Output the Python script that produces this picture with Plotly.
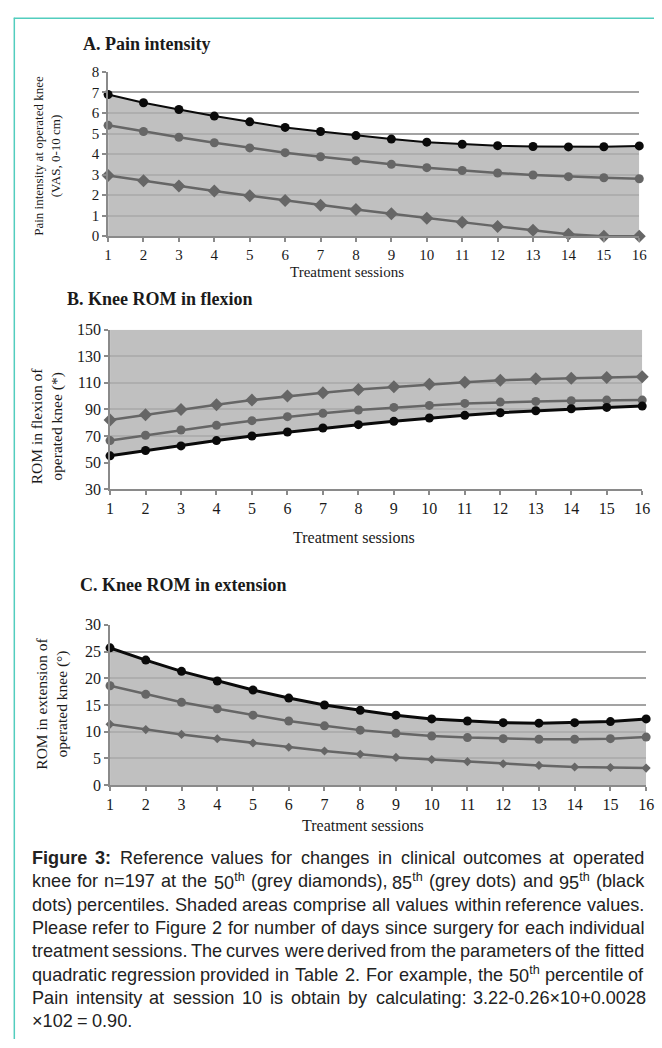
import plotly.graph_objects as go

# ---------------- data ----------------
sessions = list(range(1, 17))

pain_p50 = [2.96, 2.70, 2.45, 2.20, 1.97, 1.74, 1.51, 1.30, 1.09, 0.88, 0.68, 0.48, 0.29, 0.10, 0.00, 0.00]
pain_p85 = [5.40, 5.10, 4.82, 4.55, 4.30, 4.07, 3.87, 3.68, 3.50, 3.34, 3.20, 3.08, 2.98, 2.90, 2.85, 2.80]
pain_p95 = [6.90, 6.50, 6.17, 5.85, 5.57, 5.30, 5.10, 4.90, 4.73, 4.58, 4.48, 4.41, 4.37, 4.35, 4.36, 4.40]

flex_p50 = [82.0, 86.0, 90.0, 93.5, 97.0, 100.0, 102.5, 105.0, 107.0, 109.0, 110.5, 112.0, 113.0, 113.5, 114.0, 114.5]
flex_p85 = [66.5, 70.5, 74.5, 78.0, 81.5, 84.5, 87.0, 89.5, 91.5, 93.0, 94.5, 95.5, 96.0, 96.5, 97.0, 97.0]
flex_p95 = [55.0, 59.0, 62.5, 66.5, 70.0, 73.0, 76.0, 78.5, 81.0, 83.5, 85.5, 87.5, 89.0, 90.5, 91.5, 92.5]

ext_p50 = [11.4, 10.4, 9.5, 8.7, 7.9, 7.1, 6.4, 5.8, 5.2, 4.8, 4.4, 4.0, 3.7, 3.4, 3.3, 3.2]
ext_p85 = [18.6, 17.0, 15.5, 14.3, 13.1, 12.0, 11.1, 10.3, 9.7, 9.2, 8.9, 8.7, 8.6, 8.6, 8.7, 9.0]
ext_p95 = [25.7, 23.4, 21.3, 19.5, 17.8, 16.3, 15.0, 14.0, 13.1, 12.4, 12.0, 11.7, 11.6, 11.7, 11.9, 12.4]

panel_titles = ["A. Pain intensity", "B. Knee ROM in flexion", "C. Knee ROM in extension"]
y_titles = ["Pain intensity at operated knee<br>(VAS, 0-10 cm)",
            "ROM in flexion of<br>operated knee (*)",
            "ROM in extension of<br>operated knee (°)"]
x_title = "Treatment sessions"
y_ranges = [(0, 8, 1), (30, 150, 20), (0, 30, 5)]

caption_lines = [
    "<b>Figure</b> <b>3:</b> Reference values for changes in clinical outcomes at operated",
    "knee for n=197 at the 50<sup>th</sup> (grey diamonds), 85<sup>th</sup> (grey dots) and 95<sup>th</sup> (black",
    "dots) percentiles. Shaded areas comprise all values within reference values.",
    "Please refer to Figure 2 for number of days since surgery for each individual",
    "treatment sessions. The curves were derived from the parameters of the fitted",
    "quadratic regression provided in Table 2. For example, the 50<sup>th</sup> percentile of",
    "Pain intensity at session 10 is obtain by calculating: 3.22-0.26×10+0.0028",
    "×102 = 0.90.",
]

# ---------------- layout helpers ----------------
W, H = 662, 1048
SERIF = "Liberation Serif, Times New Roman, serif"
SANS = "Liberation Sans, Arial, sans-serif"
TXT = "#1a1a1a"
BLACK = "#0a0a0a"
GREY = "#666666"
FILL = "rgba(176,176,176,0.8)"
GRID = "#a3a3a3"
AXIS = "#8a8a8a"

def px(x):
    return x / W

def py(y):
    return 1 - y / H

# pixel geometry of each panel: (x_left, x_right, y_top, y_bottom)
geo = [(106, 647, 65, 232), (108, 650, 327, 489), (108, 654, 627, 790)]
title_pos = [(78, 37), (62, 296), (75, 587)]
ytitle_pos = [(43, 150), (44, 425), (48, 707)]
ytitle_size = [13, 15.5, 15.5]
xtitle_pos = [(349, 268), (356, 538), (366, 831)]
xtitle_size = [15, 16, 16]
tick_size = [15, 16, 16]

fig = go.Figure()

series = [(pain_p50, pain_p85, pain_p95), (flex_p50, flex_p85, flex_p95), (ext_p50, ext_p85, ext_p95)]
black_w = [2, 3, 3]

for i, (p50, p85, p95) in enumerate(series):
    xa = "x" if i == 0 else f"x{i+1}"
    ya = "y" if i == 0 else f"y{i+1}"
    ymin, ymax, dt = y_ranges[i]
    if i == 1:
        # white below the 95th curve, grey above it
        fig.add_trace(go.Scatter(x=sessions, y=p95, mode="lines", line=dict(width=0),
                                 fill="tozeroy", fillcolor="white", hoverinfo="skip",
                                 showlegend=False, xaxis=xa, yaxis=ya))
        fig.add_trace(go.Scatter(x=sessions, y=[ymax] * len(sessions), mode="lines",
                                 line=dict(width=0), fill="tonexty", fillcolor=FILL,
                                 hoverinfo="skip", showlegend=False, xaxis=xa, yaxis=ya))
    else:
        fig.add_trace(go.Scatter(x=sessions, y=p95, mode="lines", line=dict(width=0),
                                 fill="tozeroy", fillcolor=FILL, hoverinfo="skip",
                                 showlegend=False, xaxis=xa, yaxis=ya))
    dsize = 7 if i == 2 else 10
    fig.add_trace(go.Scatter(x=sessions, y=p50, mode="lines+markers",
                             line=dict(color=GREY, width=2.5),
                             marker=dict(symbol="diamond", size=dsize, color=GREY),
                             cliponaxis=False, showlegend=False, xaxis=xa, yaxis=ya))
    fig.add_trace(go.Scatter(x=sessions, y=p85, mode="lines+markers",
                             line=dict(color=GREY, width=2.5),
                             marker=dict(symbol="circle", size=9, color=GREY),
                             cliponaxis=False, showlegend=False, xaxis=xa, yaxis=ya))
    fig.add_trace(go.Scatter(x=sessions, y=p95, mode="lines+markers",
                             line=dict(color=BLACK, width=black_w[i]),
                             marker=dict(symbol="circle", size=9, color=BLACK),
                             cliponaxis=False, showlegend=False, xaxis=xa, yaxis=ya))

    xl, xr, yt, yb = geo[i]
    xkey = "xaxis" if i == 0 else f"xaxis{i+1}"
    ykey = "yaxis" if i == 0 else f"yaxis{i+1}"
    fig.update_layout(**{
        xkey: dict(domain=[px(xl), px(xr)], range=[1, 16], anchor=ya,
                   tickmode="array", tickvals=sessions, ticktext=[str(s) for s in sessions],
                   showgrid=False, zeroline=False, showline=True, linecolor=AXIS, linewidth=1.5,
                   ticks="outside", ticklen=4, tickcolor=AXIS, tickwidth=1.5,
                   tickfont=dict(family=SERIF, size=tick_size[i], color=TXT)),
        ykey: dict(domain=[py(yb), py(yt)], range=[ymin, ymax], anchor=xa, dtick=dt, tick0=ymin,
                   showgrid=True, gridcolor=GRID, gridwidth=2, zeroline=False,
                   showline=True, linecolor=AXIS, linewidth=1.5,
                   ticks="outside", ticklen=4, tickcolor=AXIS, tickwidth=1.5,
                   tickfont=dict(family=SERIF, size=tick_size[i], color=TXT)),
    })

annotations = []
for i in range(3):
    tx, ty = title_pos[i]
    annotations.append(dict(text=f"<b>{panel_titles[i]}</b>", x=px(tx), y=py(ty), xref="paper", yref="paper",
                            xanchor="left", yanchor="middle", showarrow=False,
                            font=dict(family=SERIF, size=18, color=TXT)))
    ax_, ay_ = ytitle_pos[i]
    annotations.append(dict(text=y_titles[i], x=px(ax_), y=py(ay_), xref="paper", yref="paper",
                            xanchor="center", yanchor="middle", showarrow=False, textangle=-90,
                            font=dict(family=SERIF, size=ytitle_size[i], color=TXT)))
    bx, by = xtitle_pos[i]
    annotations.append(dict(text=x_title, x=px(bx), y=py(by), xref="paper", yref="paper",
                            xanchor="center", yanchor="middle", showarrow=False,
                            font=dict(family=SERIF, size=xtitle_size[i], color=TXT)))

# ---------------- justified caption ----------------
AW = {' ': 278, '!': 278, '(': 333, ')': 333, ',': 278, '-': 333, '.': 278, ':': 278, '=': 584,
      '×': 584, '+': 584, 'A': 667, 'B': 667, 'C': 722, 'D': 722, 'E': 667, 'F': 611, 'G': 778,
      'H': 722, 'I': 278, 'J': 500, 'K': 667, 'L': 556, 'M': 833, 'N': 722, 'O': 778, 'P': 667,
      'Q': 778, 'R': 722, 'S': 667, 'T': 611, 'U': 722, 'V': 667, 'W': 944, 'X': 667, 'Y': 667,
      'Z': 611, 'a': 556, 'b': 556, 'c': 500, 'd': 556, 'e': 556, 'f': 278, 'g': 556, 'h': 556,
      'i': 222, 'j': 222, 'k': 500, 'l': 222, 'm': 833, 'n': 556, 'o': 556, 'p': 556, 'q': 556,
      'r': 333, 's': 500, 't': 278, 'u': 556, 'v': 500, 'w': 722, 'x': 500, 'y': 500, 'z': 500}
BW = {'F': 611, 'i': 278, 'g': 611, 'u': 611, 'r': 389, 'e': 556, '3': 556, ':': 333}

def word_width(word, size):
    w = 0.0
    scale, bold = 1.0, False
    j = 0
    while j < len(word):
        if word.startswith("<sup>", j):
            scale = 0.7; j += 5; continue
        if word.startswith("</sup>", j):
            scale = 1.0; j += 6; continue
        if word.startswith("<b>", j):
            bold = True; j += 3; continue
        if word.startswith("</b>", j):
            bold = False; j += 4; continue
        c = word[j]
        if bold:
            cw = BW.get(c, AW.get(c, 556) * 1.05)
        else:
            cw = AW.get(c, 556)
        w += cw * scale
        j += 1
    return w * size / 1000.0

CAP_L, CAP_R = 26, 649
CAP_Y0, CAP_DY = 864, 23.7
# largest font size (<= 18.5) that lets every justified line keep at least a normal space
CAP_SIZE = 18.5
for line in caption_lines[:-1]:
    words = line.split(" ")
    em = sum(word_width(wd, 1.0) for wd in words) + (len(words) - 1) * AW[' '] / 1000.0
    CAP_SIZE = min(CAP_SIZE, (CAP_R - CAP_L) / em)

for li, line in enumerate(caption_lines):
    yv = py(CAP_Y0 + li * CAP_DY)
    words = line.split(" ")
    widths = [word_width(wd, CAP_SIZE) for wd in words]
    if li == len(caption_lines) - 1 or len(words) == 1:
        gap = AW[' '] * CAP_SIZE / 1000.0
    else:
        gap = (CAP_R - CAP_L - sum(widths)) / (len(words) - 1)
    xcur = CAP_L
    for wd, ww in zip(words, widths):
        annotations.append(dict(text=wd, x=px(xcur), y=yv, xref="paper", yref="paper",
                                xanchor="left", yanchor="middle", showarrow=False,
                                font=dict(family=SANS, size=CAP_SIZE, color="#222222")))
        xcur += ww + gap

shapes = [
    dict(type="line", xref="paper", yref="paper", x0=px(10), x1=1.0, y0=py(10.5), y1=py(10.5),
         line=dict(color="#52CDBE", width=1.5)),
    dict(type="line", xref="paper", yref="paper", x0=px(10.5), x1=px(10.5), y0=py(10), y1=0,
         line=dict(color="#52CDBE", width=1.5)),
]

fig.update_layout(width=W, height=H, margin=dict(l=0, r=0, t=0, b=0),
                  paper_bgcolor="white", plot_bgcolor="white",
                  annotations=annotations, shapes=shapes, showlegend=False)

fig.write_html("out.html")
